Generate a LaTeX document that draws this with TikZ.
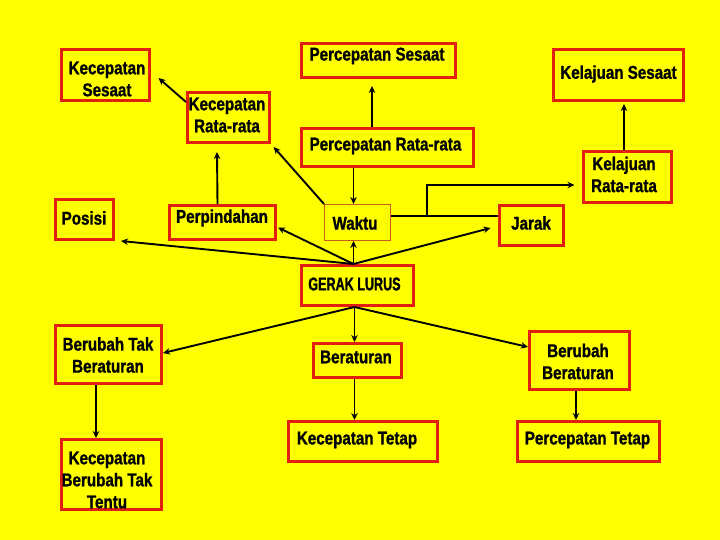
\documentclass[tikz,border=0pt]{standalone}
\usepackage{fontspec}
\setmainfont{Liberation Sans}[FakeStretch=0.82, BoldFeatures={FakeBold=1.2}]
\newfontfamily\gerakfont{Liberation Sans}[FakeStretch=0.68, BoldFeatures={FakeBold=1.2}]
\usetikzlibrary{calc,arrows.meta}
\definecolor{bg}{RGB}{255,255,0}
\definecolor{boxred}{RGB}{225,32,16}
\definecolor{thinbrd}{RGB}{205,90,30}
\tikzset{
  box/.style={draw=boxred, line width=3pt, fill=bg, inner sep=0pt},
  thinbox/.style={draw=thinbrd, line width=1pt, fill=bg, inner sep=0pt},
  txt/.style={font=\fontsize{18.5}{22}\selectfont\bfseries, align=center, inner sep=0pt, text=black},
  arr/.style={draw=black, line width=1.9pt, -{Stealth[length=7pt,width=6.5pt]}},
  conn/.style={draw=black, line width=1.6pt},
}
\begin{document}
\begin{tikzpicture}[x=1pt,y=-1pt]
\useasboundingbox (0,0) rectangle (720,540);
\fill[bg] (0,0) rectangle (720,540);
% boxes
\node[box, minimum width=88pt, minimum height=51pt] (ks) at (105.5,75) {};
\node[box, minimum width=82pt, minimum height=50pt] (krr) at (228.5,117.5) {};
\node[box, minimum width=58pt, minimum height=40pt] (pos) at (84.5,219.5) {};
\node[box, minimum width=106pt, minimum height=34pt] (perp) at (222.5,222.5) {};
\node[thinbox, minimum width=66pt, minimum height=36pt] (wak) at (357.5,222.5) {};
\node[box, minimum width=154pt, minimum height=34pt] (ps) at (378.5,60.5) {};
\node[box, minimum width=172pt, minimum height=38pt] (prr) at (387.5,147.5) {};
\node[box, minimum width=130pt, minimum height=51pt] (kes) at (618.5,75) {};
\node[box, minimum width=88pt, minimum height=51pt] (kerr) at (627.5,177) {};
\node[box, minimum width=64pt, minimum height=40pt] (jar) at (531.5,225.5) {};
\node[box, minimum width=112pt, minimum height=40pt] (gl) at (357.5,285.5) {};
\node[box, minimum width=106pt, minimum height=58pt] (btb) at (108.5,354.5) {};
\node[box, minimum width=100pt, minimum height=70pt] (kbtt) at (111.5,474.5) {};
\node[box, minimum width=88pt, minimum height=34pt] (ber) at (357.5,360.5) {};
\node[box, minimum width=149pt, minimum height=40pt] (kt) at (363,441.5) {};
\node[box, minimum width=100pt, minimum height=58pt] (bb) at (579.5,360.5) {};
\node[box, minimum width=142pt, minimum height=40pt] (pt) at (588.5,441.5) {};
% helper coordinates
\coordinate (gltop) at ($(gl.north)+(-4,0)$);
\coordinate (glbot) at ($(gl.south)+(-3,0)$);
\coordinate (br) at (427,216);
\coordinate (bbs) at ($(bb.south)+(-3.5,0)$);
\coordinate (btbs) at ($(btb.south)+(-12.5,0)$);
\coordinate (perps) at ($(perp.north)+(-5,0)$);
\coordinate (prrn) at ($(prr.north)+(-15.5,0)$);
\coordinate (kerrn) at ($(kerr.north)+(-3.5,0)$);
% connectors
\draw[arr] ($(krr.west)+(0,-15.5)$) -- ($(ks.east)+(7.5,3)$);
\draw[arr] (perps) -- ($(krr.south)+(-11.5,8)$);
\draw[arr, shorten >=4pt] (wak.north west) -- (krr.south east);
\draw[arr] (gltop) -- ($(pos.south east)+(6,0)$);
\draw[arr] (gltop) -- ($(perp.east)+(1,5)$);
\draw[arr] (gltop) -- (gltop |- wak.south);
\draw[arr] (gltop) -- ($(jar.west)+(-7.5,2.5)$);
\draw[arr] (gltop |- prr.south) -- (gltop |- wak.north);
\draw[arr] (prrn) -- ($(ps.south)+(-6.5,7)$);
\draw[arr] (kerrn) -- ($(kes.south)+(5.5,2)$);
\draw[conn] ($(wak.east)+(0,-6.5)$) -- ($(jar.west)+(0,-9.5)$);
\draw[arr] (br) |- ($(kerr.west)+(-7.5,8)$);
\draw[arr] (glbot) -- ($(btb.east)+(0,-1.5)$);
\draw[arr] (glbot) -- (glbot |- ber.north);
\draw[arr] (glbot) -- ($(bb.west)+(0,-13.5)$);
\draw[arr] (glbot |- ber.south) -- (glbot |- kt.north);
\draw[arr] (bbs) -- (bbs |- pt.north);
\draw[arr] (btbs) -- (btbs |- kbtt.north);
% texts
\node[txt] (ksT) at (107,79) {Kecepatan\\Sesaat};
\node[txt] (krrT) at (227,115) {Kecepatan\\Rata-rata};
\node[txt] (posT) at (84,218) {Posisi};
\node[txt] (perpT) at (222,218) {Perpindahan};
\node[txt] (wakT) at (355,223) {Waktu};
\node[txt] (psT) at (377,56) {Percepatan Sesaat};
\node[txt] (prrT) at (385.5,146) {Percepatan Rata-rata};
\node[txt] (kesT) at (618.5,74) {Kelajuan Sesaat};
\node[txt] (kerrT) at (624,174.5) {Kelajuan\\Rata-rata};
\node[txt] (jarT) at (531,223) {Jarak};
\node[txt, font=\fontsize{18.5}{22}\selectfont\gerakfont\bfseries] (glT) at (354.5,284) {GERAK LURUS};
\node[txt] (btbT) at (108,355) {Berubah Tak\\Beraturan};
\node[txt] (kbttT) at (107,480) {Kecepatan\\Berubah Tak\\Tentu};
\node[txt] (berT) at (356,357) {Beraturan};
\node[txt] (ktT) at (357,440) {Kecepatan Tetap};
\node[txt] (bbT) at (578,361.5) {Berubah\\Beraturan};
\node[txt] (ptT) at (587.5,440) {Percepatan Tetap};
\end{tikzpicture}
\end{document}
